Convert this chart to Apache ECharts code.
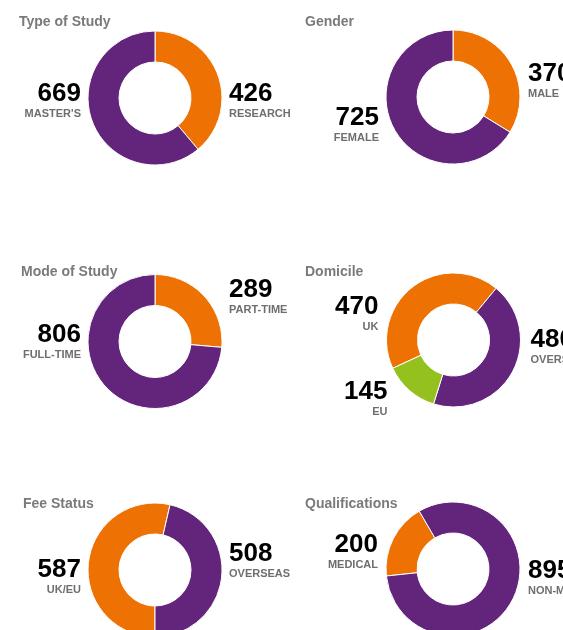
<!DOCTYPE html>
<html>
<head>
<meta charset="utf-8">
<script src="https://cdn.jsdelivr.net/npm/echarts@6/dist/echarts.min.js"></script>
<style>
  html, body { margin: 0; padding: 0; background: #fff; }
  #chart { width: 563px; height: 630px; }
</style>
</head>
<body>
<div id="chart"></div>
<script>
// ---- data ----
const chartTitles = ['Type of Study', 'Gender', 'Mode of Study', 'Domicile', 'Fee Status', 'Qualifications'];

const typeCategories = ['RESEARCH', "MASTER'S"];
const typeValues = [426, 669];

const genderCategories = ['MALE', 'FEMALE'];
const genderValues = [370, 725];

const modeCategories = ['PART-TIME', 'FULL-TIME'];
const modeValues = [289, 806];

const domicileCategories = ['UK', 'OVERSEAS', 'EU'];
const domicileValues = [470, 480, 145];

const feeCategories = ['UK/EU', 'OVERSEAS'];
const feeValues = [587, 508];

const qualCategories = ['MEDICAL', 'NON-MEDICAL'];
const qualValues = [200, 895];

// ---- styling / layout ----
const ORANGE = '#ee7203';
const PURPLE = '#63247b';
const GREEN = '#95c11f';
const FONT = '"Liberation Sans", Arial, sans-serif';

const panels = [
  { cats: typeCategories, vals: typeValues, colors: [ORANGE, PURPLE], center: [155, 98], start: 90,
    title: [19, 15], labels: [['R', 74, -5.5], ['L', 74, -5.5]] },
  { cats: genderCategories, vals: genderValues, colors: [ORANGE, PURPLE], center: [453, 97], start: 90,
    title: [305, 15], labels: [['R', 75, -25], ['L', 74, 19]] },
  { cats: modeCategories, vals: modeValues, colors: [ORANGE, PURPLE], center: [155, 341.5], start: 90,
    title: [21, 265], labels: [['R', 74, -53], ['L', 74, -8]] },
  { cats: domicileCategories, vals: domicileValues, colors: [ORANGE, PURPLE, GREEN], center: [453.5, 340], start: 205,
    title: [305, 265], labels: [['L', 75, -35], ['R', 77, -2], ['L', 66, 50]] },
  { cats: feeCategories, vals: feeValues, colors: [ORANGE, PURPLE], center: [155, 570], start: 270,
    title: [23, 497], labels: [['L', 74, -2], ['R', 74, -18]] },
  { cats: qualCategories, vals: qualValues, colors: [ORANGE, PURPLE], center: [453, 569], start: 186,
    title: [305, 497], labels: [['L', 75, -26], ['R', 75, 0]] }
];

const chart = echarts.init(document.getElementById('chart'), null, { renderer: 'canvas' });

const titles = panels.map((p, i) => ({
  text: chartTitles[i],
  left: p.title[0],
  top: p.title[1],
  padding: 0,
  textStyle: { fontFamily: FONT, fontSize: 14, fontWeight: 'bold', color: '#7a7a7a' }
}));

const series = panels.map((p, si) => ({
  type: 'pie',
  radius: [36, 67],
  center: p.center,
  startAngle: p.start,
  clockwise: true,
  avoidLabelOverlap: false,
  silent: true,
  animation: false,
  itemStyle: { borderColor: '#ffffff', borderWidth: 1 },
  label: {
    show: true,
    position: 'outside',
    formatter: '{v|{c}}\n{n|{b}}',
    rich: {
      v: { fontFamily: FONT, fontSize: 26, fontWeight: 'bold', color: '#000', lineHeight: 26 },
      n: { fontFamily: FONT, fontSize: 11, fontWeight: 'bold', color: '#6e6e6e', lineHeight: 14 }
    }
  },
  labelLine: { show: false },
  labelLayout: function (params) {
    const spec = p.labels[params.dataIndex];
    const cx = p.center[0], cy = p.center[1];
    const right = spec[0] === 'R';
    return {
      x: right ? cx + spec[1] : cx - spec[1],
      y: cy + spec[2] - 11.5,
      align: right ? 'left' : 'right',
      verticalAlign: 'top'
    };
  },
  data: p.vals.map((v, k) => ({ value: v, name: p.cats[k], itemStyle: { color: p.colors[k] } }))
}));

chart.setOption({
  backgroundColor: '#ffffff',
  animation: false,
  title: titles,
  series: series
});
</script>
</body>
</html>
